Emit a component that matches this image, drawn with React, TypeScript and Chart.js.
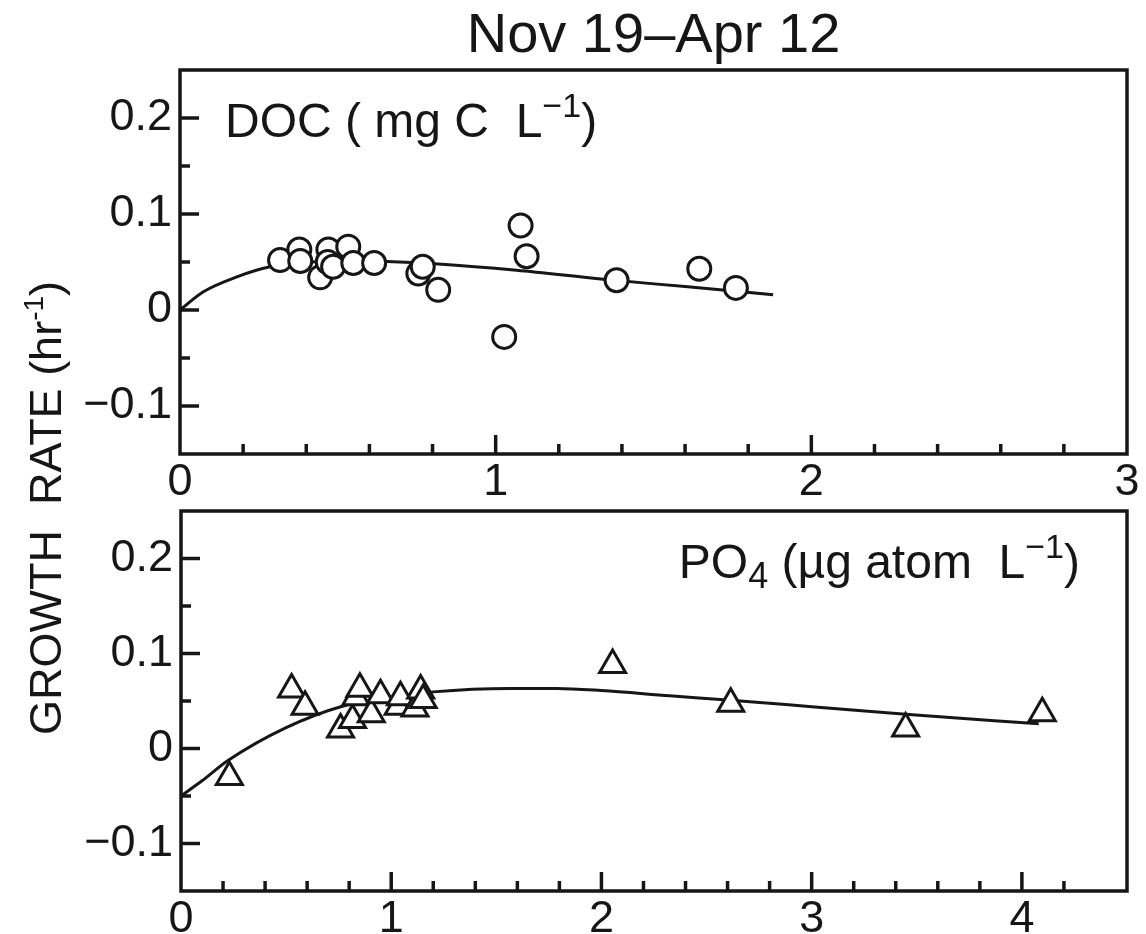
import React, { useEffect, useRef } from "react";
import { Chart, registerables } from "chart.js";

Chart.register(...registerables);

// ---------- data ----------
const titleText = "Nov 19–Apr 12";

const docX = [0.317, 0.378, 0.381, 0.444, 0.47, 0.468, 0.485, 0.533, 0.549, 0.615, 0.755, 0.769, 0.818, 1.027, 1.079, 1.098, 1.383, 1.645, 1.761];
const docY = [0.052, 0.063, 0.051, 0.034, 0.063, 0.05, 0.045, 0.066, 0.049, 0.049, 0.038, 0.045, 0.021, -0.028, 0.088, 0.056, 0.031, 0.043, 0.023];

const docFitX = [0, 0.074, 0.18, 0.285, 0.4, 0.5, 0.655, 0.818, 1.066, 1.341, 1.6, 1.879];
const docFitY = [0, 0.019, 0.0345, 0.045, 0.0495, 0.051, 0.0505, 0.048, 0.0415, 0.032, 0.0244, 0.016];

const po4X = [0.23, 0.526, 0.59, 0.759, 0.816, 0.832, 0.851, 0.905, 0.949, 1.033, 1.044, 1.113, 1.14, 1.152, 2.053, 2.615, 3.447, 4.097];
const po4Y = [-0.03, 0.062, 0.044, 0.02, 0.03, 0.054, 0.063, 0.036, 0.056, 0.044, 0.054, 0.042, 0.061, 0.051, 0.088, 0.047, 0.021, 0.037];

const po4FitX = [0, 0.1, 0.225, 0.5, 0.772, 1.0, 1.2, 1.564, 1.786, 2.0, 2.325, 2.615, 3.0, 3.447, 4.08];
const po4FitY = [-0.05, -0.034, -0.0124, 0.022, 0.0448, 0.054, 0.0596, 0.0632, 0.0632, 0.061, 0.0554, 0.0508, 0.044, 0.036, 0.026];

const topXTickLabels = [0, 1, 2, 3];
const bottomXTickLabels = [0, 1, 2, 3, 4];
const yTickLabels = [0.2, 0.1, 0, -0.1];

// ---------- styling ----------
const INK = "#161616";
const FONT = "'Liberation Sans', Arial, Helvetica, sans-serif";

type Seg = { t: string; size: number; dy: number };

function drawRich(ctx: CanvasRenderingContext2D, segs: Seg[], x: number, y: number, align: "left" | "center" | "right") {
  const widths = segs.map((s) => {
    ctx.font = `${s.size}px ${FONT}`;
    return ctx.measureText(s.t).width;
  });
  const total = widths.reduce((a, b) => a + b, 0);
  let cx = align === "center" ? x - total / 2 : align === "right" ? x - total : x;
  ctx.textBaseline = "alphabetic";
  ctx.textAlign = "left";
  segs.forEach((s, i) => {
    ctx.font = `${s.size}px ${FONT}`;
    ctx.fillText(s.t, cx, y + s.dy);
    cx += widths[i];
  });
}

function fmtY(v: number): string {
  const m = yTickLabels.find((t) => Math.abs(t - v) < 1e-9);
  if (m === undefined) return "";
  if (m === 0) return "0";
  return m < 0 ? "\u2212" + Math.abs(m) : String(m);
}

function fmtX(list: number[]) {
  return (v: number): string => {
    const m = list.find((t) => Math.abs(t - v) < 1e-9);
    return m === undefined ? "" : String(m);
  };
}

function makeFramePlugin(extra: (chart: any) => void) {
  return {
    id: "frameTicks",
    afterDraw(chart: any) {
      const { ctx, chartArea: a, scales } = chart;
      ctx.save();
      ctx.strokeStyle = INK;
      ctx.fillStyle = INK;
      ctx.lineWidth = 3.5;
      ctx.lineCap = "butt";
      ctx.strokeRect(a.left, a.top, a.right - a.left, a.bottom - a.top);
      ctx.lineWidth = 3.5;
      const xs = scales.x;
      xs.ticks.forEach((t: any) => {
        const px = xs.getPixelForValue(t.value);
        if (px <= a.left + 3 || px >= a.right - 3) return;
        const major = Math.abs(t.value - Math.round(t.value)) < 1e-6;
        const len = major ? 19 : 10;
        ctx.beginPath();
        ctx.moveTo(px, a.bottom);
        ctx.lineTo(px, a.bottom - len);
        ctx.stroke();
      });
      const ys = scales.y;
      ys.ticks.forEach((t: any) => {
        const py = ys.getPixelForValue(t.value);
        if (py <= a.top + 3 || py >= a.bottom - 3) return;
        const major = Math.abs(t.value * 10 - Math.round(t.value * 10)) < 1e-6;
        const len = major ? 19 : 10;
        ctx.beginPath();
        ctx.moveTo(a.left, py);
        ctx.lineTo(a.left + len, py);
        ctx.stroke();
      });
      extra(chart);
      ctx.restore();
    },
  };
}

function panelConfig(opts: {
  xs: number[]; ys: number[]; fx: number[]; fy: number[];
  marker: "circle" | "triangle"; radius: number;
  xMax: number; xLabels: number[];
  padTop: number; axisHeight: number; axisWidth: number;
  plugin: any;
}) {
  const pts = opts.xs.map((x, i) => ({ x, y: opts.ys[i] }));
  const fit = opts.fx.map((x, i) => ({ x, y: opts.fy[i] }));
  return {
    type: "scatter" as const,
    data: {
      datasets: [
        {
          data: pts,
          pointStyle: opts.marker,
          pointRadius: opts.radius,
          pointBorderWidth: 3,
          pointBorderColor: INK,
          pointBackgroundColor: "#ffffff",
          showLine: false,
        },
        {
          type: "line" as const,
          data: fit,
          showLine: true,
          pointRadius: 0,
          borderWidth: 3,
          borderColor: INK,
          fill: false,
          cubicInterpolationMode: "monotone" as const,
        },
      ],
    },
    options: {
      responsive: false,
      animation: false as const,
      devicePixelRatio: 1,
      layout: { padding: { left: 0, top: opts.padTop, right: 19, bottom: 0 } },
      plugins: { legend: { display: false }, tooltip: { enabled: false }, title: { display: false } },
      events: [],
      scales: {
        x: {
          type: "linear" as const,
          position: "bottom" as const,
          min: 0,
          max: opts.xMax,
          grid: { display: false, drawTicks: false },
          border: { display: false },
          ticks: {
            stepSize: 0.2,
            autoSkip: false,
            maxRotation: 0,
            minRotation: 0,
            padding: 2,
            color: INK,
            font: { family: FONT, size: 45 },
            callback: (v: any) => fmtX(opts.xLabels)(Number(v)),
          },
          afterFit: (s: any) => { s.height = opts.axisHeight; },
        },
        y: {
          type: "linear" as const,
          min: -0.15,
          max: 0.25,
          grid: { display: false, drawTicks: false },
          border: { display: false },
          ticks: {
            stepSize: 0.05,
            autoSkip: false,
            padding: 8,
            color: INK,
            font: { family: FONT, size: 45 },
            callback: (v: any) => fmtY(Number(v)),
          },
          afterFit: (s: any) => { s.width = opts.axisWidth; },
        },
      },
    },
    plugins: [opts.plugin],
  };
}

export default function App() {
  const topRef = useRef<HTMLCanvasElement | null>(null);
  const botRef = useRef<HTMLCanvasElement | null>(null);

  useEffect(() => {
    if (!topRef.current || !botRef.current) return;

    const topPlugin = makeFramePlugin((chart: any) => {
      const { ctx, chartArea: a } = chart;
      ctx.fillStyle = INK;
      // main title
      drawRich(ctx, [{ t: titleText, size: 56, dy: 0 }], (a.left + a.right) / 2, a.top - 18, "center");
      // panel label
      drawRich(ctx, [
        { t: "DOC ( mg C  L", size: 48, dy: 0 },
        { t: "\u22121", size: 34, dy: -20 },
        { t: ")", size: 48, dy: 0 },
      ], a.left + 45, a.top + 67, "left");
      // shared y-axis title
      ctx.save();
      ctx.translate(61, 508);
      ctx.rotate(-Math.PI / 2);
      drawRich(ctx, [
        { t: "GROWTH  RATE (hr", size: 45, dy: 0 },
        { t: "-1", size: 28, dy: -18 },
        { t: ")", size: 45, dy: 0 },
      ], 0, 0, "center");
      ctx.restore();
    });

    const botPlugin = makeFramePlugin((chart: any) => {
      const { ctx, chartArea: a } = chart;
      ctx.fillStyle = INK;
      drawRich(ctx, [
        { t: "PO", size: 48, dy: 0 },
        { t: "4", size: 36, dy: 10 },
        { t: " (\u00B5g atom  L", size: 48, dy: 0 },
        { t: "\u22121", size: 34, dy: -20 },
        { t: ")", size: 48, dy: 0 },
      ], a.right - 47, a.top + 67, "right");
    });

    const c1 = new Chart(topRef.current, panelConfig({
      xs: docX, ys: docY, fx: docFitX, fy: docFitY,
      marker: "circle", radius: 11.5,
      xMax: 3, xLabels: topXTickLabels,
      padTop: 70, axisHeight: 480, axisWidth: 180,
      plugin: topPlugin,
    }) as any);

    const c2 = new Chart(botRef.current, panelConfig({
      xs: po4X, ys: po4Y, fx: po4FitX, fy: po4FitY,
      marker: "triangle", radius: 15,
      xMax: 4.5, xLabels: bottomXTickLabels,
      padTop: 511, axisHeight: 43, axisWidth: 181,
      plugin: botPlugin,
    }) as any);

    return () => {
      c1.destroy();
      c2.destroy();
    };
  }, []);

  const cs: React.CSSProperties = { position: "absolute", left: 0, top: 0, width: 1146, height: 934 };
  return (
    <div style={{ position: "absolute", left: 0, top: 0, width: 1146, height: 934, background: "#ffffff" }}>
      <canvas ref={topRef} width={1146} height={934} style={cs} />
      <canvas ref={botRef} width={1146} height={934} style={cs} />
    </div>
  );
}
